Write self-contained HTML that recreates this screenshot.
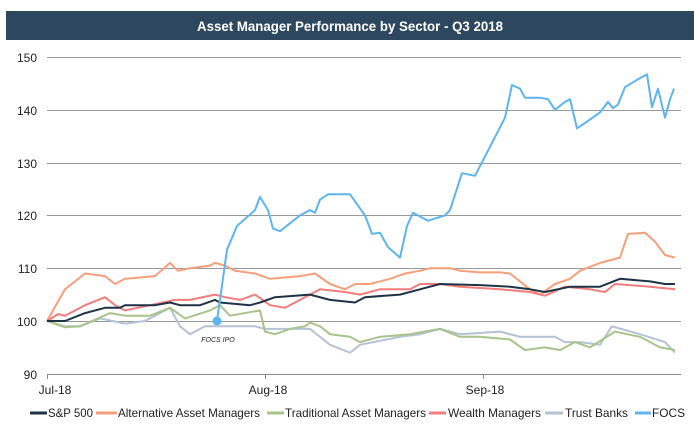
<!DOCTYPE html>
<html><head><meta charset="utf-8"><style>
body{margin:0;background:#fff;width:694px;height:438px;overflow:hidden;font-family:"Liberation Sans",Arial,sans-serif}
</style></head><body>
<svg id="s" width="694" height="438" xmlns="http://www.w3.org/2000/svg" font-family="Liberation Sans, Arial, sans-serif">
<rect x="6" y="11" width="688" height="29" fill="#2c475e"/>
<text x="350" y="31" text-anchor="middle" fill="#fff" font-size="14" font-weight="bold" textLength="306" lengthAdjust="spacingAndGlyphs">Asset Manager Performance by Sector - Q3 2018</text>
<g stroke="#999" stroke-width="1">
<line x1="47" x2="681" y1="57.5" y2="57.5"/><line x1="47" x2="681" y1="110.5" y2="110.5"/><line x1="47" x2="681" y1="163.5" y2="163.5"/><line x1="47" x2="681" y1="215.5" y2="215.5"/><line x1="47" x2="681" y1="268.5" y2="268.5"/><line x1="47" x2="681" y1="321.5" y2="321.5"/>
</g>
<line x1="47" x2="681" y1="374.5" y2="374.5" stroke="#888"/>
<g stroke="#888"><line x1="47.5" x2="47.5" y1="374" y2="379"/><line x1="265.5" x2="265.5" y1="374" y2="379"/><line x1="483.5" x2="483.5" y1="374" y2="379"/></g>
<g font-size="12" fill="#222" text-anchor="end">
<text x="37" y="62">150</text><text x="37" y="115">140</text><text x="37" y="168">130</text><text x="37" y="220">120</text><text x="37" y="273">110</text><text x="37" y="326">100</text><text x="37" y="379">90</text>
</g>
<g font-size="12" fill="#222" text-anchor="middle"><text x="55" y="394">Jul-18</text><text x="268" y="394">Aug-18</text><text x="485" y="394">Sep-18</text></g>
<text x="218" y="342" font-size="7" fill="#222" text-anchor="middle" font-style="italic">FOCS IPO</text>
<g id="lines" fill="none" stroke-width="2" stroke-linejoin="round"></g>
<circle cx="217" cy="321" r="4.5" fill="#5db4ee"/>
<g font-size="12" fill="#222">
<line x1="30" x2="47" y1="413" y2="413" stroke="#1f3347" stroke-width="3"/><text x="48" y="417" textLength="45" lengthAdjust="spacingAndGlyphs">S&amp;P 500</text>
<line x1="96" x2="117" y1="413" y2="413" stroke="#f5a07a" stroke-width="3"/><text x="118" y="417" textLength="142" lengthAdjust="spacingAndGlyphs">Alternative Asset Managers</text>
<line x1="267" x2="284" y1="413" y2="413" stroke="#a8c48a" stroke-width="3"/><text x="285" y="417" textLength="141" lengthAdjust="spacingAndGlyphs">Traditional Asset Managers</text>
<line x1="429" x2="446" y1="413" y2="413" stroke="#f47c7c" stroke-width="3"/><text x="448" y="417" textLength="93" lengthAdjust="spacingAndGlyphs">Wealth Managers</text>
<line x1="545" x2="563" y1="413" y2="413" stroke="#b4c2d6" stroke-width="3"/><text x="565" y="417" textLength="63" lengthAdjust="spacingAndGlyphs">Trust Banks</text>
<line x1="635" x2="651" y1="413" y2="413" stroke="#5db4ee" stroke-width="3"/><text x="652" y="417" textLength="33" lengthAdjust="spacingAndGlyphs">FOCS</text>
</g>
</svg>
<script>
var S={
"#b4c2d6":[47,100,65,99,80,99,100,100.5,125,99.5,145,100,170,102.5,180,99,190,97.5,205,99,215,99,255,99,265,98.5,290,98.5,310,98.5,330,95.5,350,94,360,95.5,400,97,420,97.5,440,98.5,460,97.5,500,98,520,97,555,97,565,96,580,96,600,95.5,612,99,640,97.5,665,96,675,94],
"#a8c48a":[47,100,65,98.8,80,99,110,101.5,125,101,150,101,170,102.5,185,100.5,210,102,220,103,230,101,260,102,265,98,275,97.5,290,98.5,305,99,310,99.7,320,99,330,97.5,350,97,360,96,380,97,410,97.5,440,98.5,460,97,480,97,510,96.5,525,94.5,545,95,560,94.5,575,96,590,95,615,98,640,97,660,95,675,94.5],
"#f5a07a":[47,100,65,106,85,109,105,108.5,115,107,125,108,155,108.5,170,111,178,109.5,190,110,210,110.5,215,111,225,110.5,235,109.5,255,109,270,108,300,108.5,315,109,330,107,345,106,355,107,370,107,390,108,405,109,420,109.5,430,110,450,110,460,109.5,480,109.2,500,109.2,510,109,530,106,540,105,555,107,570,108,580,109.5,600,111,620,112,628,116.5,645,116.7,655,115,665,112.5,675,112],
"#f47c7c":[47,100,58,101.3,65,101,85,103,105,104.5,115,103,125,102,150,103,175,104,190,104,215,105,225,104.5,240,104,255,105,270,103,285,102.5,310,105,320,106,345,105.5,360,105,380,106,410,106,420,107,440,107,460,106.5,500,106,530,105.5,545,104.8,565,106.5,590,106,605,105.5,615,107,650,106.5,675,106],
"#1f3347":[47,100,65,100,85,101.5,105,102.5,120,102.5,125,103,155,103,170,103.5,180,103,200,103,215,104,220,103.5,250,103,260,103.5,275,104.5,310,105,330,104,355,103.5,365,104.5,400,105,420,106,440,107,480,106.8,510,106.5,530,106,545,105.5,570,106.5,600,106.5,620,108,650,107.5,665,107,675,107],
"#5db4ee":[217,100,227,113.5,237,118,255,121,260,123.5,268,121,273,117.5,280,117,300,120,310,121,315,120.5,320,123,328,124,350,124,365,120,372,116.5,380,116.7,388,114,400,112,407,118,413,120.5,428,119,445,120,450,121,462,128,475,127.5,505,138.5,512,144.7,520,144,525,142.3,540,142.3,548,142,555,140,565,141.5,570,142,577,136.5,585,137.5,600,139.5,608,141.5,613,140.3,618,141,625,144.3,640,146,647,146.7,652,140.5,658,144,665,138.5,670,142,674,144]};
var g=document.getElementById("lines"),h="";
for(var c in S){var a=S[c],p=[];for(var i=0;i<a.length;i+=2)p.push(a[i]+","+(321-(a[i+1]-100)*5.28).toFixed(1));
h+='<polyline stroke="'+c+'" points="'+p.join(" ")+'"/>';}
g.innerHTML=h;
</script>
</body></html>
